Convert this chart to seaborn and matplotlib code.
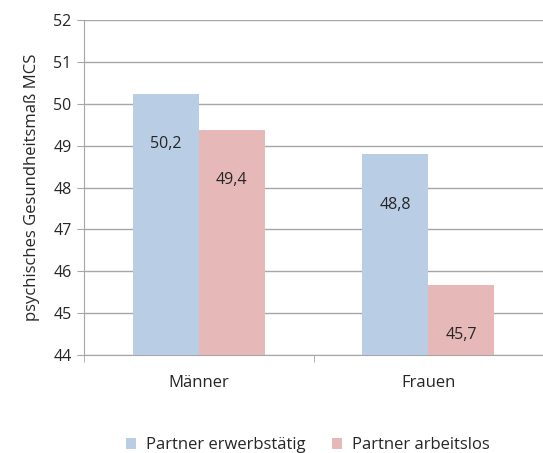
import pandas as pd
import matplotlib
matplotlib.use("Agg")
import matplotlib.pyplot as plt
import seaborn as sns

# Chart data
groups = ["Männer", "Frauen"]
series = ["Partner erwerbstätig", "Partner arbeitslos"]
erwerbstaetig = [50.24, 48.79]
arbeitslos = [49.37, 45.67]
y_ticks = [44, 45, 46, 47, 48, 49, 50, 51, 52]

df = pd.DataFrame({
    "Gruppe": groups * 2,
    "Partner": [series[0]] * 2 + [series[1]] * 2,
    "MCS": erwerbstaetig + arbeitslos,
})

sns.set_style("white")
plt.rcParams["font.family"] = ["Open Sans", "DejaVu Sans"]
txt = "#262626"

fig = plt.figure(figsize=(5.43, 4.53), dpi=100)
ax = fig.add_axes([0.155, 0.216, 0.845, 0.74])

palette = {series[0]: "#B9CDE5", series[1]: "#E6B9B8"}
sns.barplot(data=df, x="Gruppe", y="MCS", hue="Partner", order=groups,
            hue_order=series, palette=palette, width=0.575, gap=0,
            saturation=1, linewidth=0, ax=ax, zorder=3)

# value labels inside the bars
for container in ax.containers:
    for bar in container:
        v = bar.get_height()
        ax.text(bar.get_x() + bar.get_width() / 2, v - 1.2,
                f"{v:.1f}".replace(".", ","), ha="center", va="center",
                fontsize=11.5, color=txt, zorder=4)

ax.set_ylim(44, 52)
ax.set_xlim(-0.5, 1.5)
ax.set_yticks(y_ticks)
ax.yaxis.grid(True, color="#a6a6a6", linewidth=1, zorder=0)
ax.set_axisbelow(True)

for side in ["top", "right"]:
    ax.spines[side].set_visible(False)
ax.spines["left"].set_color("#a6a6a6")
ax.spines["bottom"].set_color("#a6a6a6")

ax.tick_params(axis="y", left=True, length=5, color="#a6a6a6", labelsize=11.5,
               labelcolor=txt, pad=4)
ax.set_xticks([0, 1])
ax.set_xticklabels(groups)
ax.tick_params(axis="x", bottom=False, labelsize=12, labelcolor=txt, pad=11)
ax.set_xticks([-0.5, 0.5, 1.5], minor=True)
ax.tick_params(axis="x", which="minor", bottom=True, length=5, color="#a6a6a6")

ax.set_xlabel("")
ax.set_ylabel("psychisches Gesundheitsmaß MCS", fontsize=12, color=txt, labelpad=10)

ax.legend(loc="upper center", bbox_to_anchor=(0.487, -0.2), ncol=2, frameon=False,
          fontsize=12, handlelength=0.6, handleheight=0.6, columnspacing=1.6,
          handletextpad=0.6, labelcolor=txt)

fig.savefig("out.png", dpi=100)
